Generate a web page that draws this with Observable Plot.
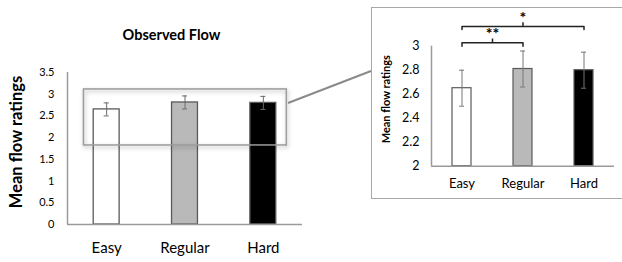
<!DOCTYPE html>
<html>
<head>
<meta charset="utf-8">
<script src="https://cdn.jsdelivr.net/npm/d3@7"></script>
<script src="https://cdn.jsdelivr.net/npm/@observablehq/plot@0.6"></script>
<style>
  html, body { margin: 0; padding: 0; background: #fff; }
  #wrap { position: relative; width: 622px; height: 262px; overflow: hidden; background: #fff; font-family: Lato, "Open Sans", sans-serif; }
  #left { position: absolute; left: 0; top: 0; }
  #insetBox { position: absolute; left: 371px; top: 7px; width: 270px; height: 192px; border: 1.5px solid #a8a8a8; border-right: none; box-sizing: border-box; }
  #inset { position: absolute; left: 371px; top: 7px; }
  #conn { position: absolute; left: 0; top: 0; pointer-events: none; }
</style>
</head>
<body>
<div id="wrap">
  <div id="left"></div>
  <div id="insetBox"></div>
  <div id="inset"></div>
  <svg id="conn" width="622" height="262"></svg>
</div>
<script>
// ---- data ----
const categories = ["Easy", "Regular", "Hard"];
const means = [2.65, 2.81, 2.80];
const errors = [0.15, 0.15, 0.15];
const leftTicks = [0, 0.5, 1, 1.5, 2, 2.5, 3, 3.5];
const insetTicks = [2, 2.2, 2.4, 2.6, 2.8, 3];
const comparisons = [
  { from: "Easy", to: "Regular", label: "**" },
  { from: "Easy", to: "Hard", label: "*" }
];
const title = "Observed Flow";
const yLabel = "Mean flow ratings";

// ---- styles ----
const barFill = { Easy: "#ffffff", Regular: "#b9b9b9", Hard: "#000000" };
const axisColor = "#9a9a9a";
const font = "Lato, 'Open Sans', sans-serif";

const rows = categories.map((c, i) => ({ i, c, mean: means[i], err: errors[i] }));
const idx = c => categories.indexOf(c);

// bracket levels (annotation placement, in inset data units)
const bracketLevels = [
  { foot: 3.0, level: 3.028, tick: 3.06, text: 3.105 },
  { foot: 3.139, level: 3.164, tick: 3.195, text: 3.24 }
];
const brackets = comparisons.map((d, k) => ({ ...d, a: idx(d.from), b: idx(d.to), ...bracketLevels[k] }));
const bracketPts = brackets.flatMap((d, k) => [
  { k, x: d.a, y: d.foot }, { k, x: d.a, y: d.level }, { k, x: d.b, y: d.level }, { k, x: d.b, y: d.foot }
]);

// ---- left (full) chart ----
const zoomWin = { x1: -0.29, x2: 2.3, y1: 1.82, y2: 3.11 };
const left = Plot.plot({
  width: 330, height: 262,
  marginLeft: 67, marginRight: 28, marginTop: 72, marginBottom: 38,
  style: { fontFamily: font, background: "transparent", color: "#000" },
  x: { domain: [-0.5, 2.5], axis: null },
  y: { domain: [0, 3.5], axis: null },
  marks: [
    Plot.rectY(rows, { x1: d => d.i - 0.5, x2: d => d.i + 0.5, y: "mean", insetLeft: 26.2, insetRight: 26.2,
      fill: d => barFill[d.c], stroke: "#5a5a5a", strokeWidth: 1.3 }),
    Plot.ruleX(rows, { x: "i", y1: d => d.mean - d.err, y2: d => d.mean + d.err, stroke: "#6a6a6a", strokeWidth: 1 }),
    Plot.ruleY(rows, { x1: "i", x2: "i", y: d => d.mean + d.err, insetLeft: -2.5, insetRight: -2.5, stroke: "#6a6a6a", strokeWidth: 1 }),
    Plot.ruleY(rows, { x1: "i", x2: "i", y: d => d.mean - d.err, insetLeft: -2.5, insetRight: -2.5, stroke: "#6a6a6a", strokeWidth: 1 }),
    Plot.ruleX([-0.5], { stroke: axisColor, strokeWidth: 1.5 }),
    Plot.ruleY([0], { stroke: axisColor, strokeWidth: 1.5 }),
    Plot.axisY({ ticks: leftTicks, tickFormat: d => String(d), tickSize: 0, tickPadding: 13, fontSize: 11, label: null }),
    Plot.axisX({ ticks: [0, 1, 2], tickFormat: i => categories[i], tickSize: 0, tickPadding: 18, fontSize: 15, label: null }),
    Plot.text([title], { frameAnchor: "top", textAnchor: "middle", lineAnchor: "middle", dx: -13.5, dy: -37, fontSize: 14.5, fontWeight: "bold" }),
    Plot.text([yLabel], { frameAnchor: "left", textAnchor: "middle", lineAnchor: "middle", rotate: -90, dx: -50.5, dy: -6.5, fontSize: 16.5, fontWeight: "bold" }),
    Plot.rect([zoomWin], { x1: "x1", x2: "x2", y1: "y1", y2: "y2", fill: "none", stroke: "#9c9c9c", strokeWidth: 1.5 })
  ]
});
document.getElementById("left").appendChild(left);
// soft shadow on the zoom window
const rectGroups = left.querySelectorAll("g[aria-label='rect']");
if (rectGroups.length) {
  rectGroups[rectGroups.length - 1].style.filter = "drop-shadow(1px 2px 2px rgba(0,0,0,0.3))";
}

// ---- inset (zoomed) chart ----
const inset = Plot.plot({
  width: 251, height: 193,
  marginLeft: 60, marginRight: 8, marginTop: 38.7, marginBottom: 34.3,
  style: { fontFamily: font, background: "transparent", color: "#000" },
  x: { domain: [-0.5, 2.5], axis: null },
  y: { domain: [2, 3], axis: null },
  marks: [
    Plot.rectY(rows, { x1: d => d.i - 0.5, x2: d => d.i + 0.5, y1: 2, y2: "mean", insetLeft: 21, insetRight: 21,
      fill: d => barFill[d.c], stroke: "#5a5a5a", strokeWidth: 1.2 }),
    Plot.ruleX(rows, { x: "i", y1: d => d.mean - d.err, y2: d => d.mean + d.err, stroke: "#777", strokeWidth: 1 }),
    Plot.ruleY(rows, { x1: "i", x2: "i", y: d => d.mean + d.err, insetLeft: -2.5, insetRight: -2.5, stroke: "#777", strokeWidth: 1 }),
    Plot.ruleY(rows, { x1: "i", x2: "i", y: d => d.mean - d.err, insetLeft: -2.5, insetRight: -2.5, stroke: "#777", strokeWidth: 1 }),
    Plot.ruleX([-0.5], { stroke: axisColor, strokeWidth: 1.5 }),
    Plot.ruleY([2], { stroke: axisColor, strokeWidth: 1.5 }),
    Plot.axisY({ ticks: insetTicks, tickFormat: d => String(d), tickSize: 0, tickPadding: 12, fontSize: 12.5, label: null }),
    Plot.axisX({ ticks: [0, 1, 2], tickFormat: i => categories[i], tickSize: 0, tickPadding: 13, fontSize: 13, label: null }),
    Plot.text([yLabel], { frameAnchor: "left", textAnchor: "middle", lineAnchor: "middle", rotate: -90, dx: -45, dy: -7, fontSize: 11, fontWeight: "bold" }),
    Plot.line(bracketPts, { x: "x", y: "y", z: "k", stroke: "#222", strokeWidth: 1.5 }),
    Plot.ruleX(brackets, { x: d => (d.a + d.b) / 2, y1: "level", y2: "tick", stroke: "#222", strokeWidth: 1.5 }),
    Plot.text(brackets, { x: d => (d.a + d.b) / 2, y: "text", text: "label", fontSize: 16, fontWeight: "bold", lineAnchor: "middle" })
  ]
});
document.getElementById("inset").appendChild(inset);

// ---- connector from the zoom window to the inset box ----
d3.select("#conn").append("line")
  .attr("x1", 288).attr("y1", 103).attr("x2", 371).attr("y2", 71)
  .attr("stroke", "#8a8a8a").attr("stroke-width", 2);
</script>
</body>
</html>
